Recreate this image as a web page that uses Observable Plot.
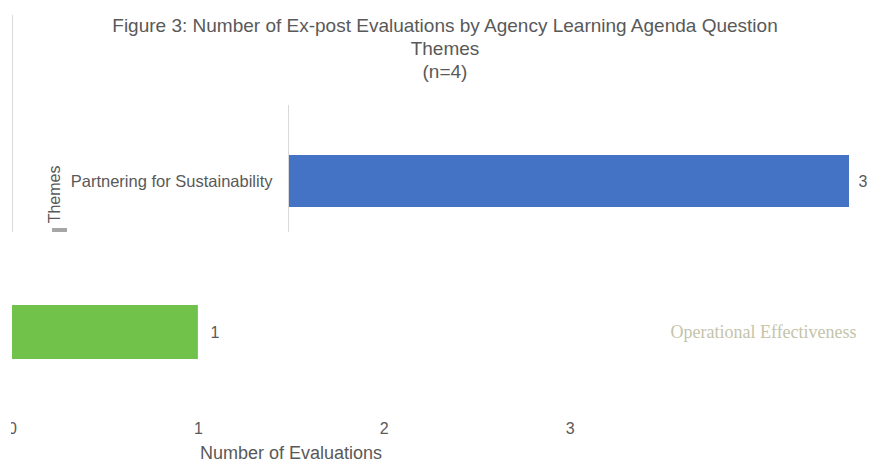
<!DOCTYPE html>
<html><head><meta charset="utf-8">
<script src="https://cdn.jsdelivr.net/npm/d3@7"></script>
<script src="https://cdn.jsdelivr.net/npm/@observablehq/plot@0.6"></script>
<style>
body{margin:0;background:#fff;}
#page{position:relative;width:869px;height:462px;overflow:hidden;background:#fff;font-family:"Liberation Sans",sans-serif;color:#595959;}
#title{position:absolute;left:0;top:14px;width:890px;text-align:center;font-size:19px;line-height:23px;}
#frameLine{position:absolute;left:12px;top:15px;width:1px;height:217px;background:#d9d9d9;}
#topPlot{position:absolute;left:0;top:105px;width:869px;height:127px;overflow:hidden;}
#bottomPlot{position:absolute;left:11px;top:232px;width:858px;height:230px;overflow:hidden;}
#bottomPlot svg{margin-left:-11px;max-width:none !important;}
#xTitle{position:absolute;left:141px;top:443px;width:300px;text-align:center;font-size:18px;line-height:20px;}
#glitch{position:absolute;left:52px;top:228px;width:15px;height:4px;background:#a6a6a6;}
svg{display:block;}
</style>
</head><body>
<div id="page">
  <div id="frameLine"></div>
  <div id="title"></div>
  <div id="topPlot"></div>
  <div id="glitch"></div>
  <div id="bottomPlot"></div>
  <div id="xTitle"></div>
</div>
<script>
const titleLines = ["Figure 3: Number of Ex-post Evaluations by Agency Learning Agenda Question", "Themes", "(n=4)"];
const themes = ["Partnering for Sustainability", "Operational Effectiveness"];
const counts = [3, 1];
const barColors = ["#4472C4", "#70C24A"];
const xTicks = [0, 1, 2, 3];
const xTitle = "Number of Evaluations";
const yTitle = "Themes";

document.getElementById("title").innerHTML = titleLines.map(s => `<div>${s}</div>`).join("");
document.getElementById("xTitle").textContent = xTitle;

const data = themes.map((t, i) => ({theme: t, count: counts[i], color: barColors[i]}));
const font = '"Liberation Sans",sans-serif';

const topPlot = Plot.plot({
  width: 869, height: 127,
  marginTop: 0, marginBottom: 0, marginLeft: 288, marginRight: 20,
  x: {domain: [0, 3], axis: null},
  y: {domain: [themes[0]], range: [50, 102], padding: 0, axis: null},
  style: {fontSize: "16px", fontFamily: font, color: "#595959", background: "transparent"},
  marks: [
    Plot.barX([data[0]], {x: "count", y: "theme", fill: "color"}),
    Plot.text([data[0]], {x: "count", y: "theme", text: d => String(d.count), textAnchor: "start", dx: 9, fill: "#595959", fontSize: 16}),
    Plot.ruleX([0], {stroke: "#d9d9d9"}),
    Plot.axisY({tickSize: 0, tickPadding: 16, label: null, fill: "#595959", fontSize: 16.5}),
    Plot.text([yTitle], {frameAnchor: "top-left", dx: -240, dy: 60, rotate: -90, textAnchor: "end", fill: "#595959", fontSize: 16})
  ]
});
document.getElementById("topPlot").appendChild(topPlot);

const bottomPlot = Plot.plot({
  width: 869, height: 230,
  marginTop: 0, marginBottom: 45, marginLeft: 12, marginRight: 199,
  x: {domain: [0, 3.54], axis: null},
  y: {domain: [themes[1]], range: [73, 127], padding: 0, axis: null},
  style: {fontSize: "16px", fontFamily: font, color: "#595959", background: "transparent"},
  marks: [
    Plot.barX([data[1]], {x: "count", y: "theme", fill: "color"}),
    Plot.text([data[1]], {x: "count", y: "theme", text: d => String(d.count), textAnchor: "start", dx: 12, fill: "#595959", fontSize: 16}),
    Plot.axisX({ticks: xTicks, tickFormat: d3.format("d"), tickSize: 0, tickPadding: 5, label: null, fill: "#595959", fontSize: 16}),
    Plot.axisY({anchor: "right", tickSize: 0, tickPadding: 0, label: null, fill: "#c4c4aa", fontSize: 18, fontFamily: '"Liberation Serif",serif'})
  ]
});
document.getElementById("bottomPlot").appendChild(bottomPlot);
</script>
</body></html>
